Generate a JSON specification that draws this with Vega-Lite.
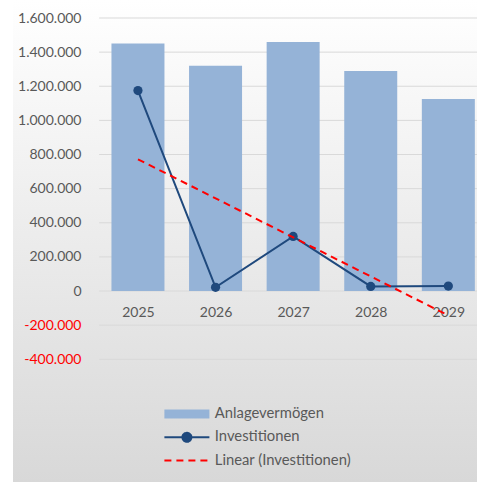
{
  "$schema": "https://vega.github.io/schema/vega-lite/v6.json",
  "width": 477,
  "height": 482,
  "autosize": {"type": "fit", "contains": "padding"},
  "padding": {"left": 13, "top": 0, "right": 0, "bottom": 0},
  "background": "#ffffff",
  "datasets": {
    "main": [
      {"year": 2025, "anlage": 1450000, "invest": 1175000},
      {"year": 2026, "anlage": 1320000, "invest": 22000},
      {"year": 2027, "anlage": 1460000, "invest": 320000},
      {"year": 2028, "anlage": 1290000, "invest": 27000},
      {"year": 2029, "anlage": 1125000, "invest": 29000}
    ],
    "trend": [
      {"year": 2025, "trend": 772000},
      {"year": 2029, "trend": -143000}
    ],
    "grid": [
      {"v": -400000}, {"v": -200000}, {"v": 0}, {"v": 200000}, {"v": 400000},
      {"v": 600000}, {"v": 800000}, {"v": 1000000}, {"v": 1200000}, {"v": 1400000}, {"v": 1600000}
    ]
  },
  "layer": [
    {
      "data": {"name": "grid"},
      "mark": {"type": "rule", "color": "#d9d9d9", "strokeWidth": 1, "clip": true},
      "encoding": {
        "y": {"field": "v", "type": "quantitative"},
        "x": {"datum": 2024.5, "type": "quantitative"},
        "x2": {"datum": 2029.6}
      }
    },
    {
      "data": {"name": "main"},
      "mark": {"type": "bar", "width": 53, "clip": true},
      "encoding": {
        "x": {
          "field": "year",
          "type": "quantitative",
          "scale": {"domain": [2023.454, 2029.305], "nice": false, "zero": false},
          "axis": {
            "title": null,
            "orient": "bottom",
            "offset": -191,
            "values": [2025, 2026, 2027, 2028, 2029],
            "format": "d",
            "grid": false,
            "domain": false,
            "ticks": false,
            "labelPadding": 14,
            "labelFlush": false,
            "labelOverlap": false,
            "labelFont": "Lato",
            "labelFontSize": 14,
            "labelColor": "#595959"
          }
        },
        "y": {
          "field": "anlage",
          "type": "quantitative",
          "scale": {"domain": [-1119000, 1705480], "nice": false, "zero": false},
          "axis": {
            "title": null,
            "orient": "left",
            "offset": -83,
            "values": [-400000, -200000, 0, 200000, 400000, 600000, 800000, 1000000, 1200000, 1400000, 1600000],
            "format": ",.0f",
            "grid": false,
            "domain": false,
            "ticks": false,
            "labelPadding": 15,
            "labelOverlap": false,
            "labelFont": "Lato",
            "labelFontSize": 14,
            "labelColor": {"condition": {"test": "datum.value < 0", "value": "#ff0000"}, "value": "#595959"}
          }
        },
        "y2": {"datum": 0},
        "color": {
          "datum": "Anlagevermögen",
          "type": "nominal",
          "scale": {
            "domain": ["Anlagevermögen", "Investitionen", "Linear (Investitionen)"],
            "range": ["#95B3D7", "#1F497D", "#FF0000"]
          },
          "legend": {
            "title": null,
            "orient": "none",
            "legendX": 151,
            "legendY": 403.5,
            "direction": "vertical",
            "padding": 0,
            "symbolSize": 2025,
            "symbolOffset": 15.5,
            "clipHeight": 21,
            "rowPadding": 2.3,
            "labelOffset": 20.5,
            "labelFont": "Lato",
            "labelFontSize": 14.8,
            "labelColor": "#595959",
            "encode": {
              "symbols": {
                "update": {
                  "shape": {"signal": "datum.value === 'Anlagevermögen' ? 'M-1,-0.2H1V0.2H-1Z' : datum.value === 'Investitionen' ? 'M-1,0H1M-0.2,0A0.2,0.2,0,1,1,0.2,0A0.2,0.2,0,1,1,-0.2,0Z' : 'M-1,0H1'"},
                  "fill": {"signal": "datum.value === 'Anlagevermögen' ? '#95B3D7' : datum.value === 'Investitionen' ? '#1F497D' : 'transparent'"},
                  "stroke": {"signal": "datum.value === 'Anlagevermögen' ? 'transparent' : datum.value === 'Investitionen' ? '#1F497D' : '#FF0000'"},
                  "strokeWidth": {"signal": "datum.value === 'Anlagevermögen' ? 0 : 2"},
                  "strokeDash": {"signal": "datum.value === 'Linear (Investitionen)' ? [7,5] : [1,0]"},
                  "size": {"value": 2025},
                  "opacity": {"value": 1}
                }
              }
            }
          }
        }
      }
    },
    {
      "data": {"name": "main"},
      "mark": {"type": "line", "strokeWidth": 2, "point": {"filled": true, "size": 85, "opacity": 1}},
      "encoding": {
        "x": {"field": "year", "type": "quantitative"},
        "y": {"field": "invest", "type": "quantitative"},
        "color": {"datum": "Investitionen", "type": "nominal"}
      }
    },
    {
      "data": {"name": "trend"},
      "mark": {"type": "line", "strokeWidth": 2, "strokeDash": [7, 5]},
      "encoding": {
        "x": {"field": "year", "type": "quantitative"},
        "y": {"field": "trend", "type": "quantitative"},
        "color": {"datum": "Linear (Investitionen)", "type": "nominal"}
      }
    }
  ],
  "config": {
    "font": "Lato",
    "locale": {
      "number": {"decimal": ",", "thousands": ".", "grouping": [3], "currency": ["", " €"], "minus": "-"}
    },
    "view": {
      "stroke": null,
      "fill": {
        "gradient": "linear",
        "x1": 0, "y1": 0, "x2": 0, "y2": 1,
        "stops": [
          {"offset": 0, "color": "#ffffff"},
          {"offset": 1, "color": "#d8d8d8"}
        ]
      }
    }
  }
}
